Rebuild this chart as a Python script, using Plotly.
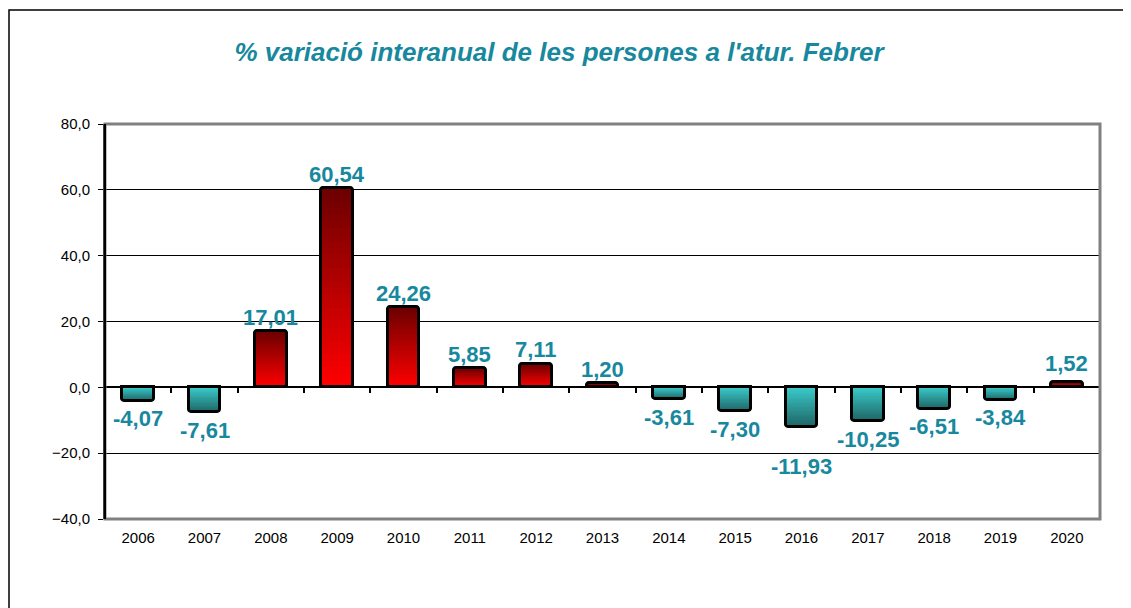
import plotly.graph_objects as go

# ---- data ----
years = ["2006", "2007", "2008", "2009", "2010", "2011", "2012", "2013",
         "2014", "2015", "2016", "2017", "2018", "2019", "2020"]
values = [-4.07, -7.61, 17.01, 60.54, 24.26, 5.85, 7.11, 1.20,
          -3.61, -7.30, -11.93, -10.25, -6.51, -3.84, 1.52]
y_ticks = [-40, -20, 0, 20, 40, 60, 80]

title_text = "% variació interanual de les persones a l'atur. Febrer"

# ---- style ----
W, H = 1131, 608
OFF = 8                      # default page body margin
FW, FH = W - OFF, H - OFF
ML, MR, MT, MB = 105 - OFF, 31, 124 - OFF, 89
LABEL_COLOR = "#17889e"
FONT = "Liberation Sans, Arial, sans-serif"
POS_NEAR, POS_END = (255, 0, 0), (108, 0, 0)      # red gradient
NEG_NEAR, NEG_END = (58, 202, 202), (30, 100, 100)  # teal gradient
N_LAYERS = 30
BAR_W = 0.48


def lerp(c1, c2, t):
    return "rgb(%d,%d,%d)" % tuple(round(a + (b - a) * t) for a, b in zip(c1, c2))


fig = go.Figure()

# gradient built from stacked overlay layers (largest first)
for k in range(N_LAYERS, 0, -1):
    frac = k / N_LAYERS
    t = (k - 0.5) / N_LAYERS
    cols = [lerp(POS_NEAR, POS_END, t) if v >= 0 else lerp(NEG_NEAR, NEG_END, t)
            for v in values]
    fig.add_trace(go.Bar(
        x=years, y=[v * frac for v in values], width=BAR_W,
        marker=dict(color=cols, line=dict(width=0),
                    cornerradius=3 if k == N_LAYERS else 0),
        hoverinfo="skip", showlegend=False,
    ))

# outline
fig.add_trace(go.Bar(
    x=years, y=values, width=BAR_W,
    marker=dict(color="rgba(0,0,0,0)", line=dict(color="black", width=3),
                cornerradius=3),
    showlegend=False,
))

# invisible trace giving categories to the zero-line axis
fig.add_trace(go.Scatter(x=years, y=[0] * len(years), xaxis="x2", mode="markers",
                         marker=dict(opacity=0), hoverinfo="skip", showlegend=False))

# value labels
extra_shift = {"2016": -22, "2020": 5}
for i, (yr, v) in enumerate(zip(years, values)):
    txt = ("%.2f" % v).replace(".", ",")
    shift = 14 if v >= 0 else -18
    shift += extra_shift.get(yr, 0)
    fig.add_annotation(x=i, y=v, xref="x", yref="y", text="<b>%s</b>" % txt,
                       showarrow=False, yshift=shift, yanchor="middle",
                       xanchor="center",
                       font=dict(family=FONT, size=22, color=LABEL_COLOR))

y0, y1 = y_ticks[0], y_ticks[-1]

fig.update_layout(
    width=FW, height=FH,
    margin=dict(l=ML, r=MR, t=MT, b=MB, pad=0),
    paper_bgcolor="white", plot_bgcolor="white",
    barmode="overlay", bargap=0,
    separators=",.",
    font=dict(family=FONT, size=15, color="black"),
    title=dict(text="<b><i>%s</i></b>" % title_text, x=(559 - OFF) / FW,
               xref="container", xanchor="center", y=1 - (52 - OFF) / FH,
               yref="container", yanchor="middle",
               font=dict(family=FONT, size=26, color=LABEL_COLOR)),
    xaxis=dict(type="category", categoryorder="array", categoryarray=years,
               range=[-0.5, len(years) - 0.5], showline=False, showgrid=False,
               ticks="", ticklabelstandoff=8, tickfont=dict(size=15),
               fixedrange=True),
    xaxis2=dict(type="category", categoryorder="array", categoryarray=years,
                overlaying="x", anchor="free",
                position=(0 - y0) / (y1 - y0),
                range=[-0.5, len(years) - 0.5], showline=True, linecolor="black",
                linewidth=2, ticks="outside", tickson="boundaries", ticklen=5,
                tickcolor="black", tickwidth=1.5, showticklabels=False,
                showgrid=False, zeroline=False),
    yaxis=dict(range=[y0, y1], tickvals=y_ticks, tickformat=".1f",
               showgrid=True, gridcolor="black", gridwidth=1,
               zeroline=False, showline=True, linecolor="black", linewidth=2,
               ticks="outside", ticklen=5, tickcolor="black",
               ticklabelstandoff=5, tickfont=dict(size=15)),
)

# plot-area border (grey, top/right/bottom)
fig.add_shape(type="rect", xref="x domain", yref="y domain", x0=0, x1=1, y0=0, y1=1,
              line=dict(color="#808080", width=3), layer="above")
# re-draw left axis in black over the border
fig.add_shape(type="line", xref="x domain", yref="y domain", x0=0, x1=0, y0=0, y1=1,
              line=dict(color="black", width=2), layer="above")

# outer chart frame (left edge at page x=8, top at page y=10)
pw, ph = FW - ML - MR, FH - MT - MB
fig.add_shape(type="rect", xref="paper", yref="paper",
              x0=(1 - ML) / pw, x1=(FW + 5 - ML) / pw,
              y0=-(MB + 5) / ph, y1=1 + (MT - 2) / ph,
              line=dict(color="black", width=1.5), layer="above")

fig.write_html("out.html")
